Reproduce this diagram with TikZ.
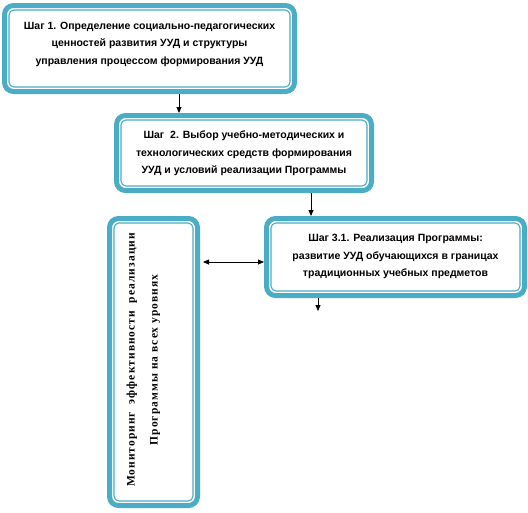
\documentclass[tikz,border=0pt]{standalone}
\usepackage{fontspec}
\setmainfont{Liberation Sans}
\newfontfamily\vertfont{Liberation Serif}[LetterSpace=9]
\usetikzlibrary{arrows.meta}
\definecolor{aqua}{HTML}{4BACC6}

\begin{document}
\begin{tikzpicture}[x=1pt, y=-1pt, >={Triangle[length=6pt,width=5pt]},
  stepbox/.style={draw=aqua, line width=5pt, rounded corners=9pt, fill=white},
  innerline/.style={draw=aqua, line width=1.1pt, rounded corners=5pt},
  steptext/.style={font=\bfseries\fontsize{10.5}{17.5}\selectfont, align=center},
  link/.style={line width=0.8pt}]

\useasboundingbox (0,0) rectangle (528,512);

% boxes
\node[stepbox, minimum width=290pt, minimum height=86pt] (step1) at (149.5,48.5) {};
\node[stepbox, minimum width=255pt, minimum height=75pt] (step2) at (244,153) {};
\node[stepbox, minimum width=258pt, minimum height=77pt] (step3) at (395.5,257) {};
\node[stepbox, minimum width=88pt, minimum height=287pt] (monitor) at (153.5,362) {};

\foreach \b in {step1,step2,step3,monitor}
  \draw[innerline] ([shift={(7,7)}]\b.north west) rectangle ([shift={(-7,-7)}]\b.south east);

% texts
\node[steptext] (text1) at (149.5,44) {Шаг 1. Определение социально-педагогических\\
  ценностей развития УУД и структуры\\ управления процессом формирования УУД};
\node[steptext] (text2) at (244,153.5) {Шаг \ 2. Выбор учебно-методических и\\
  технологических средств формирования\\ УУД и условий реализации Программы};
\node[steptext] (text3) at (395.5,256.5) {Шаг 3.1. Реализация Программы:\\
  развитие УУД обучающихся в границах\\ традиционных учебных предметов};
\node[rotate=90, align=center, font=\vertfont\bfseries\fontsize{11.5}{23}\selectfont]
  (text4) at (143.5,360) {Мониторинг \ эффективности \ реализации\\ Программы на всех уровнях};

% arrows
\coordinate (a1) at (179,0);
\coordinate (a2) at (311,0);
\coordinate (a3) at (318,311);
\coordinate (a4) at (0,262);
\draw[->, link] (step1.south -| a1) -- (step2.north -| a1);
\draw[->, link] (step2.south -| a2) -- (step3.north -| a2);
\draw[->, link] (step3.south -| a3) -- (a3);
\draw[<->, link, shorten <=3pt] (monitor.east |- a4) -- (step3.west |- a4);

\end{tikzpicture}
\end{document}
